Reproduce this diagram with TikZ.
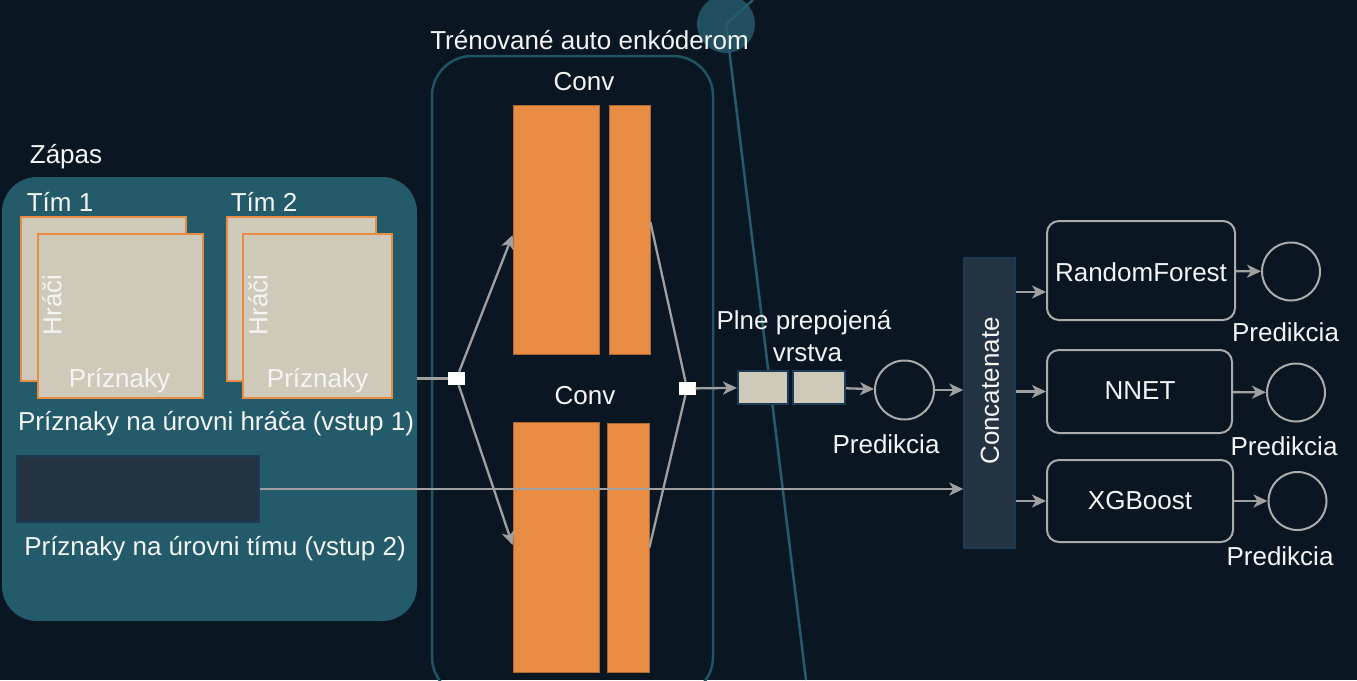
\documentclass[tikz,border=0pt]{standalone}
\usepackage{fontspec}
\setmainfont{Liberation Sans}
\usetikzlibrary{arrows.meta}

\definecolor{bgnavy}{RGB}{10,22,34}
\definecolor{matchteal}{RGB}{35,91,107}
\definecolor{encteal}{RGB}{30,84,99}
\definecolor{decoteal}{RGB}{33,79,95}
\definecolor{decoline}{RGB}{36,92,109}
\definecolor{convorange}{RGB}{232,140,68}
\definecolor{cardbeige}{RGB}{206,201,184}
\definecolor{slatebox}{RGB}{35,51,66}
\definecolor{slateedge}{RGB}{28,58,85}
\definecolor{conngrey}{RGB}{160,160,160}
\definecolor{boxgrey}{RGB}{172,172,172}
\definecolor{txtwhite}{RGB}{244,244,244}

\tikzset{
  lbl/.style={text=txtwhite, font=\fontsize{26}{31}\selectfont, inner sep=0pt},
  card/.style={draw=convorange, line width=2, fill=cardbeige, inner sep=0pt, minimum height=164},
  convbar/.style={draw=convorange!75!black, line width=0.8, fill=convorange, inner sep=0pt},
  fcbox/.style={draw=slateedge, line width=2, fill=cardbeige, inner sep=0pt, minimum height=33},
  slate/.style={draw=slateedge, line width=1.5, fill=slatebox, inner sep=0pt},
  junction/.style={fill=white, inner sep=0pt, minimum width=17, minimum height=13},
  model/.style={draw=boxgrey, line width=2, rounded corners=12, inner sep=0pt, minimum width=187},
  outcirc/.style={circle, draw=boxgrey, line width=2, inner sep=0pt, minimum size=58},
  conn/.style={draw=conngrey, line width=2.3},
  >={Stealth[length=14pt, width=13pt, inset=4pt]}
}

\begin{document}
\begin{tikzpicture}[x=1pt, y=-1pt]

\useasboundingbox (0,0) rectangle (1357,680);
\fill[bgnavy] (0,0) rectangle (1357,680);

\node[circle, fill=decoteal, inner sep=0pt, minimum size=58] (deco) at (726,24) {};
\draw[decoline, line width=2.5] (753,0) -- (deco.center) -- (806,680);

\node[fill=matchteal, rounded corners=35, inner sep=0pt, minimum width=415, minimum height=444] (match) at (209.5,399) {};
\node[lbl] (zapas) at (66,157) {Zápas};

\node[lbl] (tim1) at (60,202) {Tím 1};
\node[card, minimum width=165] (back1) at (103.5,299) {};
\node[card, minimum width=165] (front1) at (120.5,316) {};
\node[lbl, rotate=90] (hraci1) at (52,305) {Hráči};
\node[lbl] (prizn1) at (119.5,381) {Príznaky};

\node[lbl] (tim2) at (264,202) {Tím 2};
\node[card, minimum width=149] (back2) at (301.5,299) {};
\node[card, minimum width=149] (front2) at (317.5,316) {};
\node[lbl, rotate=90] (hraci2) at (258,305) {Hráči};
\node[lbl] (prizn2) at (317.5,381) {Príznaky};

\node[lbl] (vstup1) at (216,424) {Príznaky na úrovni hráča (vstup 1)};
\node[slate, minimum width=242, minimum height=66] (team) at (138,489) {};
\node[lbl] (vstup2) at (215,549) {Príznaky na úrovni tímu (vstup 2)};

\node[draw=encteal, line width=2.5, rounded corners=40, inner sep=0pt, minimum width=281, minimum height=641] (enc) at (572.5,376.5) {};
\node[lbl] (enctitle) at (589.5,40) {Trénované auto enkóderom};

\node[lbl] (convlbl1) at (584,82) {Conv};
\node[convbar, minimum width=86, minimum height=249] (conv1a) at (556,229.5) {};
\node[convbar, minimum width=41, minimum height=249] (conv1b) at (629.5,229.5) {};
\node[lbl] (convlbl2) at (585,396) {Conv};
\node[convbar, minimum width=86, minimum height=250] (conv2a) at (556,547) {};
\node[convbar, minimum width=42, minimum height=249] (conv2b) at (628,547.5) {};

\node[junction] (jin) at (456.5,378.5) {};
\node[junction] (jout) at (687,388.5) {};

\node[lbl] (fclbl1) at (804,323) {Plne prepojená};
\node[lbl] (fclbl2) at (807.5,353) {vrstva};
\node[fcbox, minimum width=50] (fc1) at (763,387.5) {};
\node[fcbox, minimum width=52] (fc2) at (819,387.5) {};
\node[outcirc, minimum size=59] (predc) at (904.5,390) {};
\node[lbl] (predlbl) at (886,444) {Predikcia};

\node[slate, minimum width=51, minimum height=290] (concat) at (989.5,403) {};
\node[lbl, rotate=90] (concatlbl) at (990,391) {Concatenate};

\node[model, minimum width=188, minimum height=99] (rf) at (1141,270.5) {};
\node[lbl] (rflbl) at (1141,272) {RandomForest};
\node[model, minimum width=185, minimum height=83] (nnet) at (1139.5,391.5) {};
\node[lbl] (nnetlbl) at (1140,391) {NNET};
\node[model, minimum width=186, minimum height=82] (xgb) at (1140,501) {};
\node[lbl] (xgblbl) at (1140,501) {XGBoost};

\node[outcirc] (rfo) at (1291,271.5) {};
\node[lbl] (rfpred) at (1285.5,332) {Predikcia};
\node[outcirc] (nneto) at (1296,392.5) {};
\node[lbl] (nnetpred) at (1284,446.5) {Predikcia};
\node[outcirc] (xgbo) at (1297.5,501) {};
\node[lbl] (xgbpred) at (1280,556) {Predikcia};

\draw[conn] (jin.west -| match.east) -- (jin.west);
\draw[conn, ->] (jin) -- ([yshift=-5.5]conv1a.west);
\draw[conn, ->] (jin) -- ([yshift=2]conv2a.west);
\draw[conn] ([yshift=7.5]conv1b.east) -- (jout);
\draw[conn] (conv2b.east) -- (jout);
\draw[conn, ->] (jout) -- (fc1);
\draw[conn, ->] (fc2) -- (predc);
\draw[conn, ->] (predc) -- (predc -| concat.west);
\draw[conn, ->] (team) -- (team -| concat.west);

\draw[conn, ->] ([yshift=-21.5]rf.west -| concat.east) -- ([yshift=-21.5]rf.west);
\draw[conn, ->] (nnet.west -| concat.east) -- (nnet.west);
\draw[conn, ->] (xgb.west -| concat.east) -- (xgb.west);
\draw[conn, ->] (rf) -- (rfo);
\draw[conn, ->] (nnet) -- (nneto);
\draw[conn, ->] (xgb) -- (xgbo);

\end{tikzpicture}
\end{document}
